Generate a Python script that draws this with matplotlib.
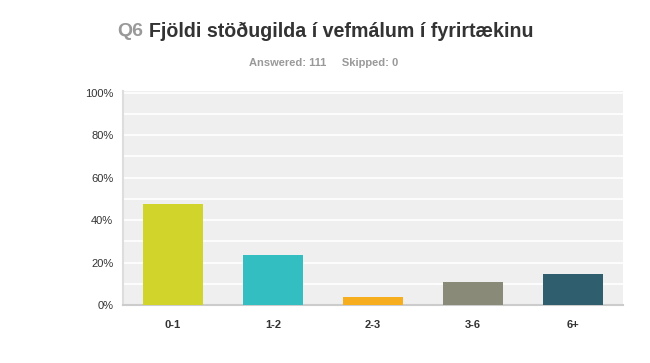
import matplotlib
matplotlib.use('Agg')
import matplotlib.pyplot as plt

plt.rcParams['font.family'] = ['Liberation Sans', 'DejaVu Sans']

categories = ['0-1', '1-2', '2-3', '3-6', '6+']
percent = [47.75, 23.42, 3.60, 10.81, 14.41]
colors = ['#D1D42A', '#33BFC1', '#F7AE1E', '#8A8A78', '#2F5F6E']
yticks = [0, 20, 40, 60, 80, 100]
answered = 111
skipped = 0

fig = plt.figure(figsize=(6.5, 3.63), dpi=100)
ax = fig.add_axes([123 / 650, 1 - 305 / 363, 500 / 650, 214 / 363])
ax.set_facecolor('#EFEFEF')

x = range(len(categories))
ax.bar(x, percent, width=0.6, color=colors, zorder=3)

ax.set_xlim(-0.5, len(categories) - 0.5)
ax.set_ylim(0, 100.8)
ax.set_yticks(yticks)
ax.set_yticklabels([f'{t}%' for t in yticks], fontsize=8, color='#333333')
ax.set_yticks(range(10, 100, 20), minor=True)
ax.grid(axis='y', which='both', color='white', linewidth=1.2, zorder=1)
ax.set_xticks(list(x))
ax.set_xticklabels(categories, fontsize=8, fontweight='bold', color='#333333')
ax.tick_params(axis='both', which='both', length=0)
ax.tick_params(axis='x', pad=11)
ax.tick_params(axis='y', pad=7)

for s in ['top', 'right']:
    ax.spines[s].set_visible(False)
ax.spines['left'].set_color('#DDDDDD')
ax.spines['left'].set_linewidth(1.5)
ax.spines['bottom'].set_color('#CCCCCC')
ax.spines['bottom'].set_linewidth(1.5)

# titill
fig.text(117 / 650, 1 - 31 / 363, 'Q6', fontsize=14, fontweight='bold',
         color='#999999', ha='left', va='center')
fig.text(149 / 650, 1 - 31 / 363, 'Fjöldi stöðugilda í vefmálum í fyrirtækinu',
         fontsize=14.1, fontweight='bold', color='#333333', ha='left', va='center')
fig.text(324 / 650, 1 - 63 / 363, f'Answered: {answered}     Skipped: {skipped}',
         fontsize=8, fontweight='bold', color='#999999', ha='center', va='center')

fig.savefig('out.png', dpi=100)
